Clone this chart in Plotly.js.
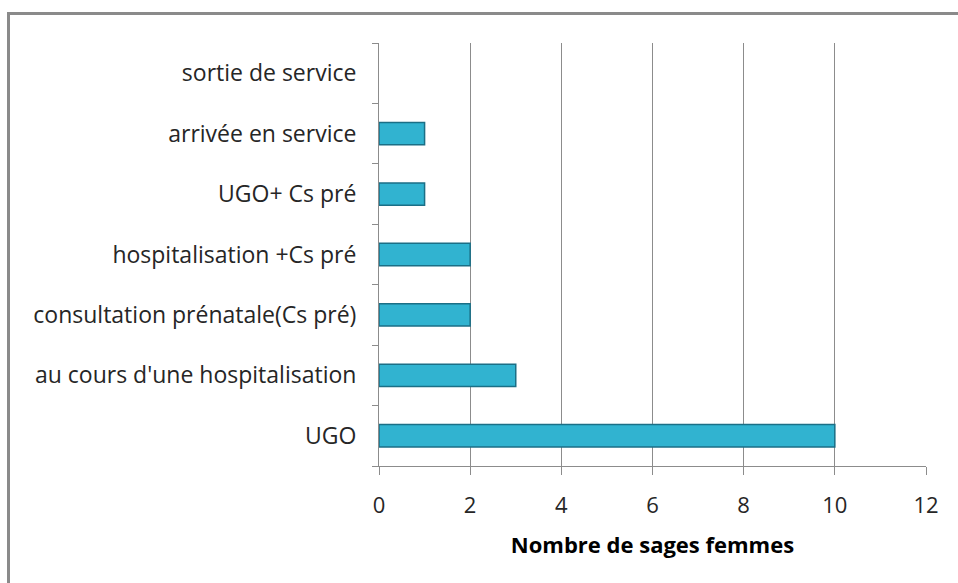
<!DOCTYPE html>
<html>
<head>
<meta charset="utf-8">
<script src="https://cdn.plot.ly/plotly-3.0.1.min.js"></script>
<style>
html,body{margin:0;padding:0;background:#fff;}
#frame{position:absolute;left:7px;top:12px;width:1000px;height:1000px;border-left:3px solid #8a8a8a;border-top:3px solid #8a8a8a;pointer-events:none;z-index:5;}
#chart{position:absolute;left:0;top:0;width:958px;height:583px;}
</style>
</head>
<body>
<div id="chart"></div>
<div id="frame"></div>
<script>
var categories = ["UGO", "au cours d'une hospitalisation", "consultation prénatale(Cs pré)", "hospitalisation +Cs pré", "UGO+ Cs pré", "arrivée en service", "sortie de service"];
var values = [10, 3, 2, 2, 1, 1, 0];
var xTicks = [0, 2, 4, 6, 8, 10, 12];
var xTitle = "Nombre de sages femmes";

var font = "'Open Sans', sans-serif";
var trace = {
  type: "bar",
  orientation: "h",
  y: categories,
  x: values,
  width: 0.37,
  marker: {color: "#31b3d0", line: {color: "#1b6f86", width: values.map(function (v) { return v > 0 ? 1.5 : 0; })}},
  hoverinfo: "x+y"
};
var layout = {
  width: 958, height: 583,
  margin: {l: 379, r: 32, t: 43, b: 117},
  paper_bgcolor: "#ffffff", plot_bgcolor: "#ffffff",
  showlegend: false,
  xaxis: {
    range: [0, 12], tickvals: xTicks, ticktext: xTicks.map(String),
    showgrid: true, gridcolor: "#8c8c8c", gridwidth: 1,
    zeroline: false, showline: true, linecolor: "#8c8c8c", linewidth: 1,
    ticks: "outside", ticklen: 8, tickcolor: "#8c8c8c",
    ticklabelstandoff: 12,
    tickfont: {family: font, size: 22, color: "#262626"},
    title: {text: "<b>" + xTitle + "</b>", font: {family: font, size: 22, color: "#000"}, standoff: 19}
  },
  yaxis: {
    type: "category", categoryorder: "array", categoryarray: categories,
    range: [-0.5, 6.5],
    showgrid: false, zeroline: false, showline: true, linecolor: "#8c8c8c", linewidth: 1,
    ticks: "outside", ticklen: 6, tickcolor: "#8c8c8c", tickson: "boundaries",
    ticklabelstandoff: 17,
    tickfont: {family: font, size: 23, color: "#262626"}
  }
};
Plotly.newPlot("chart", [trace], layout, {displayModeBar: false, staticPlot: true});
</script>
</body>
</html>
